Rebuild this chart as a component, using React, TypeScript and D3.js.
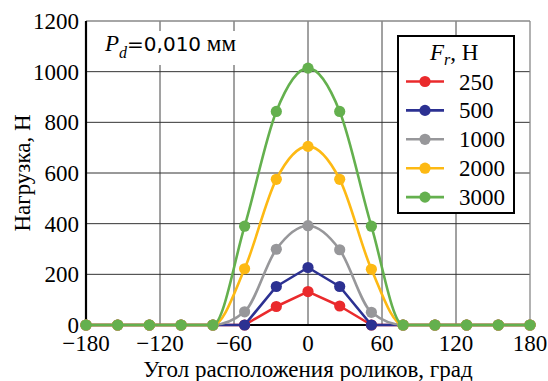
import * as d3 from "d3";

// roller positions, degrees (14 rollers, 360/14 step)
const angles = [-180, -154.3, -128.6, -102.9, -77.1, -51.4, -25.7, 0, 25.7, 51.4, 77.1, 102.9, 128.6, 154.3, 180];

// roller load, N, for each radial force
const load250 = [0, 0, 0, 0, 0, 0, 73, 132, 75, 0, 0, 0, 0, 0, 0];
const load500 = [0, 0, 0, 0, 0, 0, 152, 227, 152, 0, 0, 0, 0, 0, 0];
const load1000 = [0, 0, 0, 0, 0, 52, 299, 392, 297, 50, 0, 0, 0, 0, 0];
const load2000 = [0, 0, 0, 0, 0, 222, 575, 705, 575, 220, 0, 0, 0, 0, 0];
const load3000 = [0, 0, 0, 0, 0, 390, 843, 1014, 843, 390, 0, 0, 0, 0, 0];

const seriesNames = ["250", "500", "1000", "2000", "3000"];
const seriesValues = [load250, load500, load1000, load2000, load3000];
const seriesColors = ["#ea2a2c", "#2c3192", "#97979a", "#fdb913", "#64b04e"];
const seriesSmooth = [false, false, true, true, true];

const xTicks = [-180, -120, -60, 0, 60, 120, 180];
const yTicks = [0, 200, 400, 600, 800, 1000, 1200];

const W = 548;
const H = 381;
const m = { left: 86, right: 18, top: 21, bottom: 56 };
const serif = "'Liberation Serif', 'Times New Roman', serif";
const fs = 23;

export default function App() {
  const x = d3.scaleLinear().domain([-180, 180]).range([m.left, W - m.right]);
  const y = d3.scaleLinear().domain([0, 1200]).range([H - m.bottom, m.top]);

  const lineFor = (smooth: boolean) =>
    d3
      .line<number>()
      .x((_, i) => x(angles[i]))
      .y((d) => y(d))
      .curve(smooth ? d3.curveMonotoneX : d3.curveLinear);

  return (
    <div style={{ position: "fixed", left: 0, top: 0 }}>
      <svg width={W} height={H} style={{ display: "block", background: "#fff" }}>
        {/* grid */}
        {xTicks.slice(1, -1).map((t) => (
          <line key={"gx" + t} x1={x(t)} x2={x(t)} y1={y(1200)} y2={y(0)} stroke="#444" strokeWidth={1} />
        ))}
        {yTicks.slice(1, -1).map((t) => (
          <line key={"gy" + t} x1={x(-180)} x2={x(180)} y1={y(t)} y2={y(t)} stroke="#333" strokeWidth={1} />
        ))}
        {/* frame top/right */}
        <line x1={x(-180)} x2={x(180)} y1={y(1200)} y2={y(1200)} stroke="#888" strokeWidth={1.3} />
        <line x1={x(180)} x2={x(180)} y1={y(1200)} y2={y(0)} stroke="#888" strokeWidth={1.3} />
        {/* axes */}
        <line x1={x(-180)} x2={x(-180)} y1={y(1200)} y2={y(0) + 1} stroke="#000" strokeWidth={2.2} />
        <line x1={x(-180) - 1} x2={x(180)} y1={y(0)} y2={y(0)} stroke="#000" strokeWidth={2.2} />

        {/* P_d label */}
        <rect x={98} y={31} width={150} height={34} fill="#fff" />
        <text x={105} y={51} fontFamily={serif} fontSize={fs} fill="#000">
          <tspan fontStyle="italic">P</tspan>
          <tspan fontStyle="italic" fontSize={16} dy={7}>d</tspan>
          <tspan dy={-7} fontFamily="'DejaVu Sans', sans-serif" fontSize={20}>=0,010</tspan>
          <tspan> мм</tspan>
        </text>

        {/* series */}
        {seriesValues.map((vals, k) => (
          <g key={seriesNames[k]}>
            <path
              d={lineFor(seriesSmooth[k])(vals) ?? ""}
              fill="none"
              stroke={seriesColors[k]}
              strokeWidth={2.6}
              strokeLinejoin="round"
            />
            {vals.map((v, i) => (
              <circle key={i} cx={x(angles[i])} cy={y(v)} r={5.6} fill={seriesColors[k]} />
            ))}
          </g>
        ))}

        {/* tick labels */}
        {yTicks.map((t) => (
          <text key={"ty" + t} x={79} y={y(t) + 8} textAnchor="end" fontFamily={serif} fontSize={fs}>
            {t}
          </text>
        ))}
        {xTicks.map((t) => (
          <text key={"tx" + t} x={x(t)} y={351} textAnchor="middle" fontFamily={serif} fontSize={fs}>
            {t < 0 ? "\u2212" + Math.abs(t) : t}
          </text>
        ))}

        {/* axis titles */}
        <text x={(x(-180) + x(180)) / 2} y={377} textAnchor="middle" fontFamily={serif} fontSize={fs}>
          Угол расположения роликов, град
        </text>
        <text
          transform={`translate(30,${(y(0) + y(1200)) / 2}) rotate(-90)`}
          textAnchor="middle"
          fontFamily={serif}
          fontSize={fs}
        >
          Нагрузка, Н
        </text>

        {/* legend */}
        <rect x={398} y={36} width={116} height={177} fill="#fff" stroke="#000" strokeWidth={2} />
        <text x={430} y={60} fontFamily={serif} fontSize={fs}>
          <tspan fontStyle="italic">F</tspan>
          <tspan fontStyle="italic" fontSize={16} dy={5}>r</tspan>
          <tspan dy={-5}>, Н</tspan>
        </text>
        {seriesNames.map((name, k) => {
          const cy = 81.5 + k * 28.9;
          return (
            <g key={"lg" + name}>
              <line x1={406} x2={444} y1={cy} y2={cy} stroke={seriesColors[k]} strokeWidth={2.6} />
              <circle cx={425} cy={cy} r={5.6} fill={seriesColors[k]} />
              <text x={459} y={cy + 8} fontFamily={serif} fontSize={fs}>
                {name}
              </text>
            </g>
          );
        })}
      </svg>
    </div>
  );
}
